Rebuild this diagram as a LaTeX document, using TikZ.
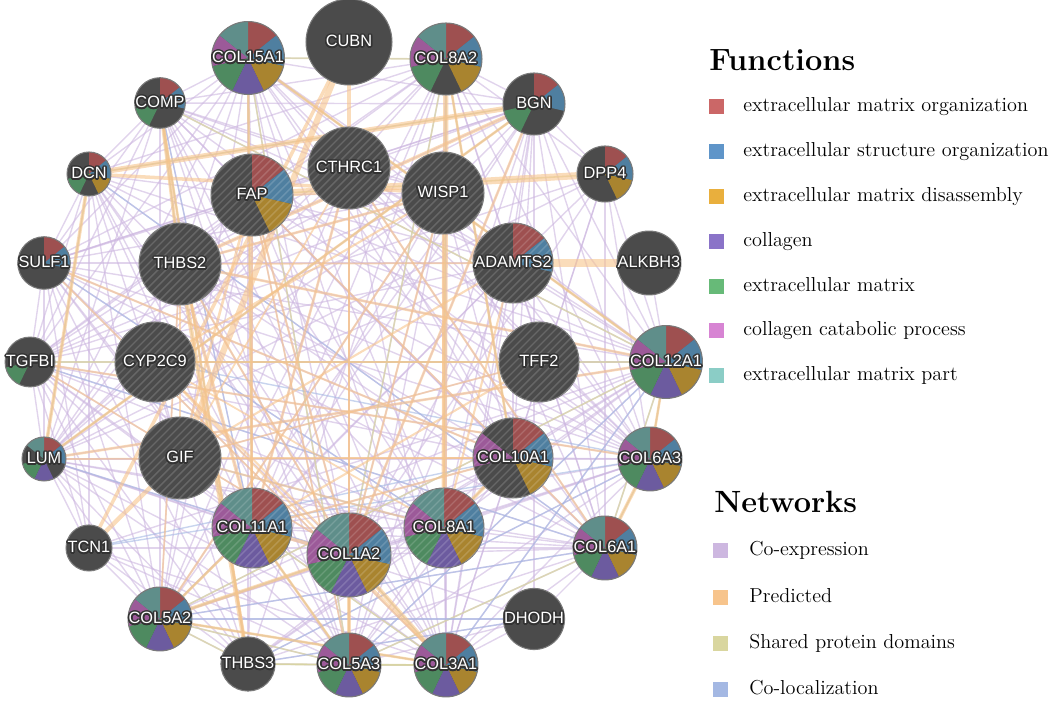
\documentclass[tikz,border=0pt]{standalone}
\usepackage{fontspec}
\usepackage{xcolor}
\usepackage[copies]{contour}
\usetikzlibrary{positioning}
\newfontfamily\genefont{Liberation Sans}
\contourlength{0.9pt}
\contournumber{16}

\definecolor{genedark}{HTML}{4B4B4B}
\definecolor{generim}{HTML}{7A7A7A}
\definecolor{genehalo}{HTML}{333333}
% pie slices
\definecolor{fn1}{HTML}{9E5050}
\definecolor{fn2}{HTML}{4F7FA0}
\definecolor{fn3}{HTML}{A9842F}
\definecolor{fn4}{HTML}{6C5B9F}
\definecolor{fn5}{HTML}{4E8A60}
\definecolor{fn6}{HTML}{9C5A99}
\definecolor{fn7}{HTML}{5F8E8A}
% legend
\definecolor{lg1}{HTML}{CB6767}
\definecolor{lg2}{HTML}{5F95C9}
\definecolor{lg3}{HTML}{E9AF3D}
\definecolor{lg4}{HTML}{8A73C8}
\definecolor{lg5}{HTML}{67BA78}
\definecolor{lg6}{HTML}{D784D3}
\definecolor{lg7}{HTML}{8BCDC6}
\definecolor{netcoexp}{HTML}{CDB7E0}
\definecolor{netpred}{HTML}{F7C48C}
\definecolor{netdom}{HTML}{D9D69F}
\definecolor{netcoloc}{HTML}{A4B8E3}

\newcommand{\glabel}[1]{\contour{genehalo}{#1}}

\pgfdeclarelayer{edges}
\pgfsetlayers{edges,main}

\tikzset{
  gene/.style={circle, inner sep=0pt, minimum size={#1*0.04cm}, fill=genedark, text=white,
    font=\genefont\fontsize{9.3}{10}\selectfont, postaction={draw=generim, line width=0.6pt}},
  pie/.style={path picture={\foreach \s in {#1}{\fill[fn\s] (path picture bounding box.center)
    -- +({90-(\s-1)*360/7}:3cm) -- +({90-\s*360/7}:3cm) -- cycle;}}},
  query/.style={postaction={path picture={\foreach \k in {-12,...,12}
    \draw[white, draw opacity=0.16, line width=0.8pt] (path picture bounding box.center)
      ++({\k*0.16cm-1.2cm},-1.2cm) -- ++(2.4cm,2.4cm);}}},
  coexpline/.style={draw=netcoexp, line width=0.8pt, opacity=0.6},
  predline/.style={draw=netpred, line width=#1, opacity=0.6},
  domline/.style={draw=netdom, line width=0.9pt, opacity=0.7},
  colocline/.style={draw=netcoloc, line width=0.8pt, opacity=0.6},
  legbox/.style={minimum size=0.3cm, inner sep=0pt},
  legtext/.style={anchor=base west, inner sep=0pt, font=\fontsize{11.5}{13}\selectfont},
  leghead/.style={anchor=base west, inner sep=0pt, font=\fontsize{17.5}{20}\selectfont\bfseries}
}

\begin{document}
\begin{tikzpicture}[x=0.02cm, y=0.02cm]
\useasboundingbox (0,0) rectangle (1052,709);

% genes
\node[gene=43] (cubn) at (349,667) {\glabel{CUBN}};
\node[gene=21, pie={1,...,7}] (col15a1) at (248,651) {\glabel{COL15A1}};
\node[gene=36, pie={1,2,3,5,6,7}] (col8a2) at (446,650) {\glabel{COL8A2}};
\node[gene=22, pie={1,2,5}] (comp) at (160,606) {\glabel{COMP}};
\node[gene=31, pie={1,2,5}] (bgn) at (534,605) {\glabel{BGN}};
\node[gene=22, pie={1,2,3,5}] (dcn) at (89,535) {\glabel{DCN}};
\node[gene=41, pie={1,2,3}, query] (fap) at (252,514) {\glabel{FAP}};
\node[gene=41, query] (cthrc1) at (349,541) {\glabel{CTHRC1}};
\node[gene=41, query] (wisp1) at (443,516) {\glabel{WISP1}};
\node[gene=28, pie={1,2,3}] (dpp4) at (605,535) {\glabel{DPP4}};
\node[gene=22, pie={1,2}] (sulf1) at (44,446) {\glabel{SULF1}};
\node[gene=41, query] (thbs2) at (180,445) {\glabel{THBS2}};
\node[gene=40, pie={1,2}, query] (adamts2) at (513,446) {\glabel{ADAMTS2}};
\node[gene=26] (alkbh3) at (649,446) {\glabel{ALKBH3}};
\node[gene=23, pie={5}] (tgfbi) at (30,347) {\glabel{TGFBI}};
\node[gene=40, query] (cyp2c9) at (155,347) {\glabel{CYP2C9}};
\node[gene=40, query] (tff2) at (539,347) {\glabel{TFF2}};
\node[gene=27, pie={1,...,7}] (col12a1) at (666,347) {\glabel{COL12A1}};
\node[gene=22, pie={1,2,4,5,7}] (lum) at (44,250) {\glabel{LUM}};
\node[gene=41, query] (gif) at (180,251) {\glabel{GIF}};
\node[gene=40, pie={1,2,3,6}, query] (col10a1) at (513,251) {\glabel{COL10A1}};
\node[gene=27, pie={1,...,7}] (col6a3) at (650,250) {\glabel{COL6A3}};
\node[gene=23] (tcn1) at (89,161) {\glabel{TCN1}};
\node[gene=40, pie={1,...,7}, query] (col11a1) at (252,181) {\glabel{COL11A1}};
\node[gene=42, pie={1,...,7}, query] (col1a2) at (349,154) {\glabel{COL1A2}};
\node[gene=40, pie={1,...,7}, query] (col8a1) at (444,181) {\glabel{COL8A1}};
\node[gene=24, pie={1,...,7}] (col6a1) at (605,161) {\glabel{COL6A1}};
\node[gene=23, pie={1,...,7}] (col5a2) at (160,90) {\glabel{COL5A2}};
\node[gene=24] (dhodh) at (534,90) {\glabel{DHODH}};
\node[gene=23] (thbs3) at (248,45) {\glabel{THBS3}};
\node[gene=23, pie={1,...,7}] (col5a3) at (349,44) {\glabel{COL5A3}};
\node[gene=24, pie={1,...,7}] (col3a1) at (446,44) {\glabel{COL3A1}};

% interactions
\begin{pgfonlayer}{edges}
\foreach \a/\bs in {
  col15a1/{comp,dcn,sulf1,col8a2,bgn,fap,cthrc1,thbs2,lum,col11a1,col1a2,col5a2,col3a1,col12a1,col6a3,col6a1,col10a1,col8a1,tgfbi,wisp1,adamts2,thbs3,col5a3},
  comp/{dcn,sulf1,tgfbi,lum,col8a2,bgn,thbs2,fap,cthrc1,col11a1,col1a2,col5a2,col3a1,col12a1,col6a3,col10a1,col8a1,thbs3,col5a3,wisp1,adamts2},
  dcn/{sulf1,tgfbi,lum,bgn,col8a2,fap,thbs2,col11a1,col1a2,col5a2,col3a1,col12a1,col6a1,col6a3,col5a3,thbs3,tcn1},
  bgn/{dpp4,col8a2,fap,cthrc1,wisp1,adamts2,col12a1,col6a3,col6a1,col10a1,col8a1,col1a2,col3a1,col5a3,col5a2,col11a1,lum,sulf1,tgfbi,dhodh,thbs2},
  col8a2/{dpp4,fap,cthrc1,wisp1,adamts2,col12a1,col6a3,col6a1,col10a1,col8a1,col1a2,col3a1,col5a2,col11a1,lum,sulf1,tgfbi,thbs3},
  dpp4/{adamts2,col12a1,col6a3,col6a1,col10a1,col1a2,col3a1,lum,tgfbi},
  sulf1/{tgfbi,lum,tcn1,col5a2,col11a1,col1a2,col3a1,col12a1,col6a3,col6a1,col10a1,col8a1,thbs3,col5a3,fap,cthrc1,wisp1,adamts2},
  tgfbi/{lum,tcn1,col5a2,col11a1,col1a2,col3a1,col12a1,col6a3,col6a1,col10a1,col8a1,thbs3,col5a3,thbs2,fap,wisp1,adamts2},
  lum/{tcn1,col5a2,col11a1,col1a2,col3a1,col12a1,col6a3,col6a1,col10a1,col8a1,thbs3,col5a3,dhodh,thbs2,cyp2c9,fap,cthrc1,wisp1,adamts2},
  tcn1/{col5a2,col3a1,col6a1,col12a1,col5a3,thbs3},
  col5a2/{thbs3,col5a3,col3a1,dhodh,col6a1,col6a3,col12a1,col10a1,col8a1,col1a2,col11a1,thbs2,fap,cthrc1,wisp1,adamts2},
  thbs3/{col5a3,col3a1,dhodh,col6a1,col6a3,col12a1,col10a1,col8a1,col11a1},
  col5a3/{col3a1,dhodh,col6a1,col6a3,col12a1,col10a1,col8a1,col11a1,col1a2,fap,wisp1,adamts2,thbs2},
  col3a1/{dhodh,col6a1,col6a3,col12a1,col10a1,col8a1,col1a2,col11a1,thbs2,fap,cthrc1,wisp1,adamts2},
  col6a1/{col6a3,col12a1,col10a1,col8a1,col1a2,col11a1,dhodh,fap,cthrc1,wisp1,thbs2,adamts2},
  col6a3/{col12a1,col10a1,col8a1,col1a2,col11a1,fap,cthrc1,wisp1,thbs2,adamts2,tff2},
  col12a1/{col10a1,col8a1,col1a2,col11a1,fap,cthrc1,wisp1,thbs2,adamts2,alkbh3,tff2},
  fap/{cthrc1,wisp1,thbs2,col11a1,col1a2,col8a1,col10a1,adamts2},
  cthrc1/{wisp1,thbs2,col11a1,col1a2,col10a1,adamts2},
  wisp1/{thbs2,col11a1,col1a2,col10a1},
  thbs2/{col11a1,col1a2,col10a1,col8a1},
  adamts2/{col11a1,col1a2,col10a1},
  col11a1/{col1a2,col10a1,col8a1},
  col1a2/{col8a1,col10a1},
  col10a1/{col8a1},
  gif/{tff2,cyp2c9},
  cyp2c9/{tff2}}
  \foreach \b in \bs
    \draw[coexpline] (\a) -- (\b);

\foreach \a/\b in {col1a2/col3a1, col1a2/col5a2, col1a2/col5a3, col3a1/col11a1, col5a2/col11a1,
  col5a3/col11a1, col5a2/col5a3, col3a1/col5a2, col3a1/col5a3, col8a1/col8a2, col8a1/col10a1,
  col8a2/col10a1, col6a1/col6a3, col6a3/col12a1, col12a1/col6a1, col15a1/col12a1, thbs2/thbs3,
  thbs2/comp, thbs3/comp, bgn/dcn, lum/dcn, bgn/lum, fap/dpp4, col15a1/col8a2, thbs3/col3a1,
  thbs3/col5a3, col5a2/thbs3, col15a1/col11a1, col15a1/col5a3, col8a2/col1a2, col12a1/col5a2,
  tgfbi/col12a1, comp/col12a1, col6a1/col5a3}
  \draw[domline] (\a) -- (\b);

\foreach \a/\b in {col5a2/col6a1, thbs3/col6a3, lum/col1a2, tgfbi/col6a1, col3a1/col12a1,
  comp/col11a1, dhodh/col5a2, gif/col8a1, cyp2c9/col6a3, tcn1/col6a3, sulf1/col8a1,
  dcn/col6a1, col5a3/col12a1, thbs3/dhodh, tcn1/col10a1}
  \draw[colocline] (\a) -- (\b);

\foreach \a/\b/\w in {adamts2/alkbh3/5, dpp4/fap/4, cubn/gif/3.5, cubn/tcn1/2, gif/tcn1/2.5,
  col8a2/col8a1/3, col8a2/col10a1/1.5, col8a1/col10a1/2, bgn/dcn/3, dcn/lum/2, bgn/lum/1.5,
  bgn/thbs2/2, comp/thbs2/2, thbs2/thbs3/2.5, comp/thbs3/1.5, col1a2/col3a1/2.5, col1a2/col5a2/2,
  col1a2/col11a1/2, col11a1/col5a2/1.5, col11a1/col5a3/1.5, col1a2/col5a3/2, col3a1/col5a2/1.5,
  col6a1/col6a3/2, col6a3/col12a1/1.5, col12a1/col15a1/1.5, cthrc1/col1a2/1.5, thbs2/col11a1/2,
  cyp2c9/tff2/1.5, wisp1/thbs2/1.5, col10a1/col11a1/1.2, fap/col1a2/1.2, cubn/cthrc1/2.5,
  lum/col12a1/1.5, tgfbi/col6a3/1.2, sulf1/col10a1/1.2, gif/col8a1/1.2, cyp2c9/col3a1/1.2,
  dcn/wisp1/2, col15a1/col11a1/1.5, bgn/col1a2/1.5, wisp1/col5a2/1.2, cthrc1/col6a1/1.2,
  tff2/col11a1/1.2, thbs2/col12a1/1.5, gif/adamts2/1.2, thbs2/gif/1.5, cyp2c9/col1a2/1.2,
  fap/gif/1.5, fap/col11a1/1.2, cthrc1/col11a1/1.5, wisp1/col1a2/1.2, cthrc1/gif/1,
  thbs2/col1a2/1.2, wisp1/col8a1/1.5, adamts2/col8a1/1.2, tff2/gif/1, cyp2c9/wisp1/1.2,
  gif/col10a1/1.2, thbs2/adamts2/1, cyp2c9/col8a1/1, thbs2/col5a2/1, fap/col5a3/1,
  lum/col10a1/1, tgfbi/col1a2/1, sulf1/col3a1/1, cthrc1/col5a3/1, fap/col6a1/1}
  \draw[predline=\w pt] (\a) -- (\b);
\end{pgfonlayer}

% legend
\node[leghead] (fnhead) at (709,638) {Functions};
\foreach \i/\t in {1/extracellular matrix organization, 2/extracellular structure organization,
  3/extracellular matrix disassembly, 4/collagen, 5/extracellular matrix,
  6/collagen catabolic process, 7/extracellular matrix part} {
  \node[legbox, fill=lg\i] (fnbox\i) at (716.5,{602-(\i-1)*44.8}) {};
  \node[legtext] (fntext\i) at (743,{597-(\i-1)*44.8}) {\t};
}
\node[leghead] (nethead) at (714,196) {Networks};
\foreach \i/\c/\t in {1/netcoexp/Co-expression, 2/netpred/Predicted,
  3/netdom/Shared protein domains, 4/netcoloc/Co-localization} {
  \node[legbox, fill=\c] (netbox\i) at (720.5,{158-(\i-1)*46.3}) {};
  \node[legtext] (nettext\i) at (749,{153-(\i-1)*46.3}) {\t};
}
\end{tikzpicture}
\end{document}
